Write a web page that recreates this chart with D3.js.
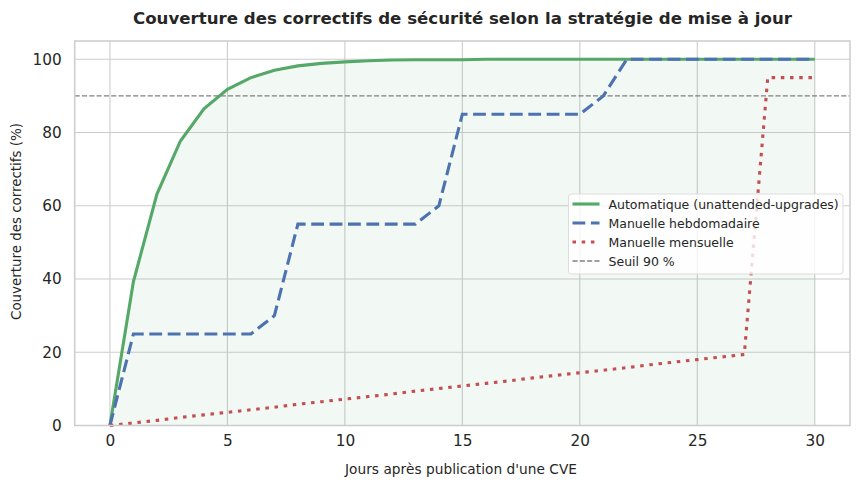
<!DOCTYPE html>
<html>
<head>
<meta charset="utf-8">
<script src="https://cdn.jsdelivr.net/npm/d3@7"></script>
<style>
  body { margin: 0; background: #fff; }
  text { font-family: "DejaVu Sans", sans-serif; fill: #262626; }
</style>
</head>
<body>
<div id="chart"></div>
<script>
// Data
var days = d3.range(0, 31);
var automatique = [0, 39.3, 63.2, 77.7, 86.5, 91.8, 95.0, 97.0, 98.2, 98.9, 99.3,
    99.6, 99.8, 99.9, 99.9, 99.9, 100, 100, 100, 100, 100,
    100, 100, 100, 100, 100, 100, 100, 100, 100, 100];
var hebdomadaire = [0, 25, 25, 25, 25, 25, 25, 30, 55, 55, 55,
    55, 55, 55, 60, 85, 85, 85, 85, 85, 85,
    90, 100, 100, 100, 100, 100, 100, 100, 100, 100];
var mensuelle = [0, 0.7, 1.4, 2.2, 2.9, 3.6, 4.3, 5.0, 5.8, 6.5, 7.2,
    7.9, 8.6, 9.4, 10.1, 10.8, 11.5, 12.2, 13.0, 13.7, 14.4,
    15.1, 15.8, 16.6, 17.3, 18.0, 18.7, 19.4, 95, 95, 95];
var seuil = 90;
var xTicks = [0, 5, 10, 15, 20, 25, 30];
var yTicks = [0, 20, 40, 60, 80, 100];

var series = [
    {name: 'Automatique (unattended-upgrades)', values: automatique, color: '#55a868', dash: null},
    {name: 'Manuelle hebdomadaire', values: hebdomadaire, color: '#4c72b0', dash: '12.8,5.6'},
    {name: 'Manuelle mensuelle', values: mensuelle, color: '#c44e52', dash: '3.5,5.7'}
];

// Chart space
var W = 859, H = 487;
var margin = {top: 41, right: 9, bottom: 61.5, left: 74.7},
    width = W - margin.left - margin.right,
    height = H - margin.top - margin.bottom;

var root = d3.select('#chart').append('svg')
    .attr('width', W)
    .attr('height', H);

var svg = root.append('g')
    .attr('transform', 'translate(' + margin.left + ',' + margin.top + ')');

var x = d3.scaleLinear().domain([-1.5, 31.5]).range([0, width]);
var y = d3.scaleLinear().domain([0, 105]).range([height, 0]);

// Grid
svg.append('g')
    .selectAll('line')
    .data(xTicks)
    .enter().append('line')
    .attr('x1', function(d) { return x(d); })
    .attr('x2', function(d) { return x(d); })
    .attr('y1', 0).attr('y2', height)
    .style('stroke', '#cccccc').style('stroke-width', 1.1);
svg.append('g')
    .selectAll('line')
    .data(yTicks)
    .enter().append('line')
    .attr('y1', function(d) { return y(d); })
    .attr('y2', function(d) { return y(d); })
    .attr('x1', 0).attr('x2', width)
    .style('stroke', '#cccccc').style('stroke-width', 1.1);

// Fill under the automatic curve
svg.append('path')
    .datum(days)
    .attr('d', d3.area()
        .x(function(d) { return x(d); })
        .y0(y(0))
        .y1(function(d, i) { return y(automatique[i]); }))
    .style('fill', '#55a868')
    .style('fill-opacity', 0.08);

// Threshold
svg.append('line')
    .attr('x1', 0).attr('x2', width)
    .attr('y1', y(seuil)).attr('y2', y(seuil))
    .style('stroke', '#808080')
    .style('stroke-width', 1.3)
    .style('stroke-dasharray', '5.1,2.2');

// Lines
series.forEach(function(s) {
    svg.append('path')
        .datum(days)
        .attr('d', d3.line()
            .x(function(d) { return x(d); })
            .y(function(d, i) { return y(s.values[i]); }))
        .style('fill', 'none')
        .style('stroke', s.color)
        .style('stroke-width', 3.1)
        .style('stroke-dasharray', s.dash);
});

// Spines
svg.append('rect')
    .attr('width', width).attr('height', height)
    .style('fill', 'none')
    .style('stroke', '#cccccc')
    .style('stroke-width', 1.5);

// Axes
var xAxis = svg.append('g')
    .attr('transform', 'translate(0,' + height + ')')
    .call(d3.axisBottom(x).tickValues(xTicks).tickSize(0).tickPadding(10));
var yAxis = svg.append('g')
    .call(d3.axisLeft(y).tickValues(yTicks).tickSize(0).tickPadding(13));
[xAxis, yAxis].forEach(function(a) {
    a.select('.domain').remove();
    a.selectAll('text')
        .style('font-family', '"DejaVu Sans", sans-serif')
        .style('font-size', '15.3px')
        .style('fill', '#262626');
});

// Title and labels
root.append('text')
    .attr('x', 462.5)
    .attr('y', 24)
    .attr('text-anchor', 'middle')
    .attr('textLength', 659)
    .style('font-size', '16.6px')
    .style('font-weight', 'bold')
    .text('Couverture des correctifs de sécurité selon la stratégie de mise à jour');

root.append('text')
    .attr('x', 461)
    .attr('y', 474)
    .attr('text-anchor', 'middle')
    .attr('textLength', 232)
    .style('font-size', '13.7px')
    .text("Jours après publication d'une CVE");

root.append('text')
    .attr('transform', 'translate(21,221.5) rotate(-90)')
    .attr('text-anchor', 'middle')
    .attr('textLength', 197)
    .style('font-size', '13.5px')
    .text('Couverture des correctifs (%)');

// Legend
var legendItems = series.concat([{name: 'Seuil 90 %', color: '#808080', dash: '5.1,2.2', thin: true}]);
var legend = root.append('g').attr('transform', 'translate(568.5,194)');
legend.append('rect')
    .attr('width', 274.5).attr('height', 80)
    .attr('rx', 3)
    .style('fill', '#ffffff').style('fill-opacity', 0.8)
    .style('stroke', '#dddddd');
legendItems.forEach(function(s, i) {
    var ly = 10 + i * 19;
    legend.append('line')
        .attr('x1', 4).attr('x2', 31)
        .attr('y1', ly).attr('y2', ly)
        .style('stroke', s.color)
        .style('stroke-width', s.thin ? 1.3 : 3.1)
        .style('stroke-dasharray', s.dash);
    legend.append('text')
        .attr('x', 40).attr('y', ly + 4.5)
        .style('font-size', '12.5px')
        .text(s.name);
});
</script>
</body>
</html>
